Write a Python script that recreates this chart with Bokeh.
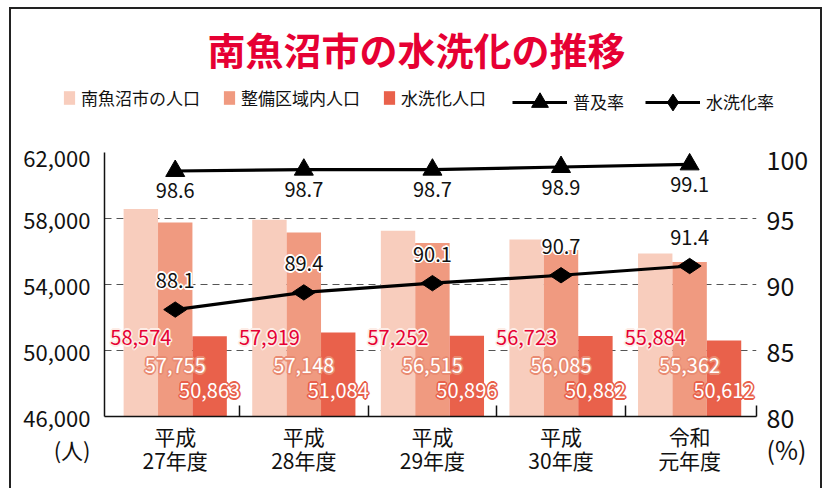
from bokeh.plotting import figure
from bokeh.models import (Range1d, LinearAxis, FixedTicker, NumeralTickFormatter,
                          Legend, LegendItem, ColumnDataSource, Label)
from bokeh.core.properties import value
from bokeh.embed import file_html
from bokeh.resources import INLINE

# ---------------- data ----------------
categories = ["平成\n27年度", "平成\n28年度", "平成\n29年度", "平成\n30年度", "令和\n元年度"]
pop_total = [58574, 57919, 57252, 56723, 55884]      # 南魚沼市の人口
pop_area = [57755, 57148, 56515, 56085, 55362]       # 整備区域内人口
pop_flush = [50863, 51084, 50896, 50882, 50612]      # 水洗化人口
rate_spread = [98.6, 98.7, 98.7, 98.9, 99.1]         # 普及率
rate_flush = [88.1, 89.4, 90.1, 90.7, 91.4]          # 水洗化率
left_ticks = [46000, 50000, 54000, 58000, 62000]
right_ticks = [80, 85, 90, 95, 100]
series_names = ["南魚沼市の人口", "整備区域内人口", "水洗化人口", "普及率", "水洗化率"]
title_text = "南魚沼市の水洗化の推移"
left_unit = "(人)"
right_unit = "(%)"

# ---------------- style / geometry (page px) ----------------
FONT = "Noto Sans CJK JP"
C1, C2, C3 = "#f8cdbd", "#f09a80", "#e9614b"
RED = "#e60033"
INK = "#111111"
BORDER = "#222222"
OX, OY = 11, 9                 # page position of the canvases
W = 809
HEAD_H = 131
MAIN_H = 348
MAIN_Y0 = OY + HEAD_H
PF_L, PF_R, PF_T, PF_B = 104, 756, 152, 416   # main frame edges, page px
X0, X1 = -0.55, 4.52
Y0, Y1 = left_ticks[0], left_ticks[-1]
BW = 0.2675


def y_at(py):
    return Y0 + (PF_B - py) / (PF_B - PF_T) * (Y1 - Y0)


cat_x = list(range(len(categories)))

# ================= head: title + legends =================
head = figure(width=W, height=HEAD_H, x_range=Range1d(OX, OX + W),
              y_range=Range1d(OY + HEAD_H, OY),
              x_axis_type=None, y_axis_type=None, output_backend="svg",
              toolbar_location=None, min_border=0,
              min_border_left=0, min_border_right=0, min_border_top=0, min_border_bottom=0)
head.outline_line_color = None
head.grid.visible = False
head.styles = {"margin-top": f"{OY}px", "margin-left": f"{OX}px",
               "box-shadow": f"0 -2px 0 {BORDER}, -2px 0 0 {BORDER}, 2px 0 0 {BORDER}, "
                             f"-2px -2px 0 {BORDER}, 2px -2px 0 {BORDER}"}

head.add_layout(Label(x=416, y=48, text=title_text, text_font=FONT,
                      text_font_size="38px", text_font_style="bold", text_color=RED,
                      text_align="center", text_baseline="middle"))

# legend proxies (kept outside the visible head area)
OUT = [-500]
proxy_bars = [head.vbar(x=OUT, top=OUT, bottom=-600, width=1, fill_color=c, line_color=None)
              for c in (C1, C2, C3)]
pl1 = head.line(x=OUT, y=OUT, line_color="black", line_width=3.2)
pm1 = head.scatter(x=OUT, y=OUT, marker="triangle", size=19, fill_color="black",
                   line_color="black")
pl2 = head.line(x=OUT, y=OUT, line_color="black", line_width=3.2)
pm2 = head.scatter(x=OUT, y=OUT, marker="diamond", angle=1.5708, size=23,
                   fill_color="black", line_color="black")

leg_common = dict(orientation="horizontal", padding=0, margin=0, border_line_color=None,
                  background_fill_alpha=0, label_text_font=FONT,
                  label_text_font_size="17px", label_text_color=INK,
                  label_text_baseline="middle")
LEG_CY = 101.5
lg1 = Legend(items=[LegendItem(label=n, renderers=[r])
                    for n, r in zip(series_names[:3], proxy_bars)],
             location=(62 - OX, OY + HEAD_H - (LEG_CY + 8.5)),
             glyph_width=14, glyph_height=17, label_height=17, label_standoff=5,
             spacing=22, **leg_common)
lg2 = Legend(items=[LegendItem(label=series_names[3], renderers=[pl1, pm1]),
                    LegendItem(label=series_names[4], renderers=[pl2, pm2])],
             location=(512 - OX, OY + HEAD_H - (LEG_CY + 21)),
             glyph_width=55, glyph_height=42, label_height=42, label_standoff=6,
             spacing=21, **leg_common)
head.add_layout(lg1)
head.add_layout(lg2)

# ================= main chart =================
p = figure(width=W, height=MAIN_H, x_range=Range1d(X0, X1), y_range=Range1d(Y0, Y1),
           output_backend="svg", toolbar_location=None,
           min_border_left=PF_L - OX, min_border_right=OX + W - PF_R,
           min_border_top=PF_T - MAIN_Y0, min_border_bottom=MAIN_Y0 + MAIN_H - PF_B)
p.outline_line_color = None
p.styles = {"margin-left": f"{OX}px",
            "box-shadow": f"-2px 0 0 {BORDER}, 2px 0 0 {BORDER}"}
p.extra_y_ranges = {"pct": Range1d(right_ticks[0], right_ticks[-1])}

# left axis
p.yaxis.ticker = FixedTicker(ticks=left_ticks)
p.yaxis.formatter = NumeralTickFormatter(format="0,0")
p.yaxis.major_label_overrides = {left_ticks[0]: f" \n{left_ticks[0]:,}\n{left_unit}"}
p.yaxis.major_tick_in = 0
p.yaxis.major_tick_out = 0
p.yaxis.minor_tick_in = 0
p.yaxis.minor_tick_out = 0
p.yaxis.axis_line_width = 1.5
p.yaxis.axis_line_color = INK
p.yaxis.major_label_standoff = 14
p.yaxis.major_label_text_font = FONT
p.yaxis.major_label_text_font_size = "22px"
p.yaxis.major_label_text_color = INK
p.yaxis.major_label_text_line_height = 1.0

# bottom axis
p.xaxis.ticker = FixedTicker(ticks=cat_x, minor_ticks=[0.5, 1.5, 2.5, 3.5, X1])
p.xaxis.major_label_overrides = {i: c for i, c in zip(cat_x, categories)}
p.xaxis.major_tick_in = 0
p.xaxis.major_tick_out = 0
p.xaxis.minor_tick_in = 11
p.xaxis.minor_tick_out = 0
p.xaxis.minor_tick_line_color = INK
p.xaxis.minor_tick_line_width = 1.5
p.xaxis.axis_line_width = 1.5
p.xaxis.axis_line_color = INK
p.xaxis.major_label_standoff = 4
p.xaxis.major_label_text_font = FONT
p.xaxis.major_label_text_font_size = "21px"
p.xaxis.major_label_text_color = INK
p.xaxis.major_label_text_line_height = 0.8

# right axis
ax_r = LinearAxis(y_range_name="pct", ticker=FixedTicker(ticks=right_ticks))
ax_r.major_label_overrides = {right_ticks[0]: f" \n{right_ticks[0]}\n{right_unit}"}
ax_r.axis_line_color = None
ax_r.major_tick_in = 0
ax_r.major_tick_out = 0
ax_r.minor_tick_in = 0
ax_r.minor_tick_out = 0
ax_r.major_label_standoff = 10
ax_r.major_label_text_font = FONT
ax_r.major_label_text_font_size = "25px"
ax_r.major_label_text_color = INK
ax_r.major_label_text_line_height = 0.9
p.add_layout(ax_r, "right")

p.xgrid.visible = False
p.ygrid.ticker = FixedTicker(ticks=left_ticks)
p.ygrid.grid_line_color = "#555555"
p.ygrid.grid_line_dash = "7 5"
p.ygrid.grid_line_width = 1.2

# bars
for off, vals, col in zip([-BW, 0, BW], [pop_total, pop_area, pop_flush], [C1, C2, C3]):
    p.vbar(x=[c + off for c in cat_x], top=vals, bottom=Y0, width=BW,
           fill_color=col, line_color=None)

# lines
p.line(cat_x, rate_spread, y_range_name="pct", line_color="black", line_width=3.2)
p.scatter(cat_x, rate_spread, y_range_name="pct", marker="triangle", size=19,
          fill_color="black", line_color="black")
p.line(cat_x, rate_flush, y_range_name="pct", line_color="black", line_width=3.2)
p.scatter(cat_x, rate_flush, y_range_name="pct", marker="diamond", angle=1.5708,
          size=23, fill_color="black", line_color="black")


def halo_text(xs, ys, texts, size, color, halo=None, hw=1.5, y_off=0, range_name="default"):
    src = ColumnDataSource(dict(x=xs, y=ys, text=texts))
    kw = dict(x="x", y="y", text="text", source=src, text_font=value(FONT),
              text_font_size=f"{size}px", text_align="center", text_baseline="middle",
              y_range_name=range_name)
    if halo:
        d = hw * 0.7071
        for dx, dy in [(hw, 0), (-hw, 0), (0, hw), (0, -hw), (d, d), (-d, d), (d, -d), (-d, -d)]:
            p.text(x_offset=dx, y_offset=y_off + dy, text_color=halo, **kw)
    p.text(x_offset=0, y_offset=y_off, text_color=color, **kw)


fmt = lambda v: f"{v:,}"
halo_text([c - BW for c in cat_x], [y_at(337)] * len(cat_x), [fmt(v) for v in pop_total],
          20, RED, "#fdece6", 1.6)
halo_text([c for c in cat_x], [y_at(365)] * len(cat_x), [fmt(v) for v in pop_area],
          20, "white", "#e98b72", 1.6)
halo_text([c + BW for c in cat_x], [y_at(390)] * len(cat_x), [fmt(v) for v in pop_flush],
          20, "white", "#e8604a", 1.6)

halo_text(cat_x, rate_spread, [f"{v:.1f}" for v in rate_spread], 20, INK,
          "white", 1.6, y_off=20, range_name="pct")
halo_text(cat_x, rate_flush, [f"{v:.1f}" for v in rate_flush], 20, INK,
          "white", 1.6, y_off=-29, range_name="pct")

open("out.html", "w").write(file_html([head, p], INLINE))
